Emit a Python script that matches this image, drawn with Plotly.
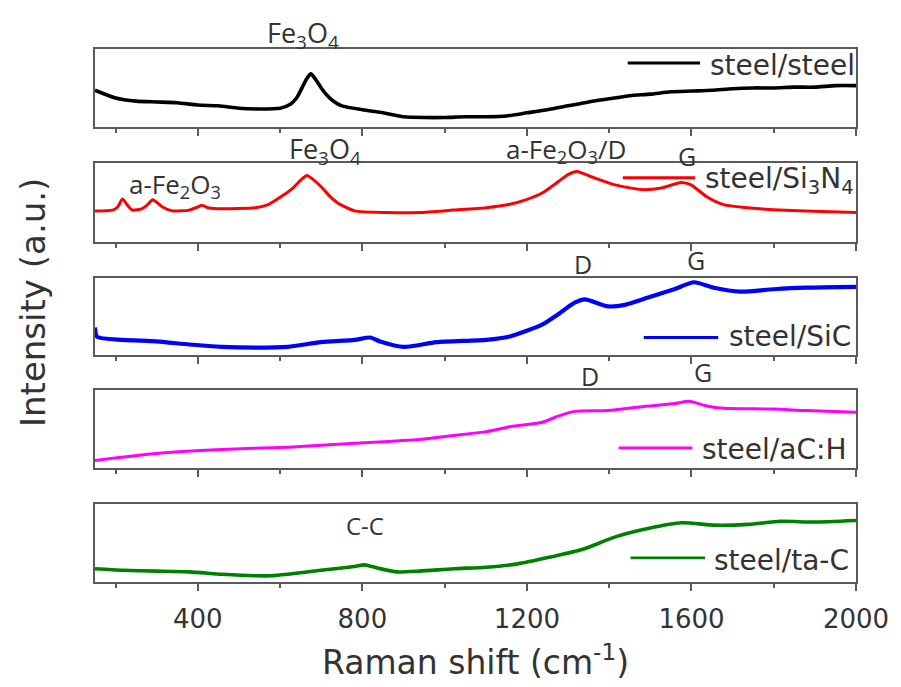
import plotly.graph_objects as go

# ---------------- data ----------------
shift_ss = [150, 200, 250, 300, 350, 400, 450, 500, 550, 600, 625, 640, 655, 665, 675, 685, 700, 715, 730,
            750, 800, 850, 900, 950, 1000, 1050, 1100, 1150, 1200, 1250, 1300, 1350, 1400, 1450, 1500,
            1550, 1600, 1650, 1700, 1750, 1800, 1850, 1900, 1950, 2000]
int_ss = [47, 37, 33, 32, 31, 28, 27, 24, 23, 24, 29, 37, 52, 62, 68, 62, 50, 40, 33,
          27, 22, 18, 13, 12, 12, 13, 13, 14, 18, 22, 27, 32, 36, 40, 42,
          45, 46, 47, 49, 50, 50, 51, 51, 53, 53]

shift_sn = [150, 193, 205, 217, 229, 241, 265, 280, 290, 300, 314, 338, 379, 395, 410, 425, 439, 499,
            540, 571, 602, 631, 650, 665, 680, 699, 720, 740, 781, 860, 939, 1021, 1101, 1156, 1197,
            1238, 1276, 1300, 1322, 1358, 1414, 1479, 1527, 1575, 1599, 1637, 1678, 1758, 1878, 2000]
int_sn = [39, 40, 44, 54, 46, 40, 42, 48, 53, 50, 44, 39, 40, 43, 46, 43, 42, 42,
          43, 47, 57, 68, 78, 84, 79, 70, 58, 49, 39, 37, 37, 40, 43, 47, 53,
          62, 76, 85, 89, 82, 72, 66, 68, 75, 72, 57, 47, 42, 39, 37]

shift_sic = [150, 155, 217, 299, 379, 458, 540, 619, 699, 781, 819, 843, 901, 980, 1101, 1156, 1238, 1276,
             1317, 1341, 1397, 1438, 1493, 1558, 1606, 1654, 1719, 1799, 1878, 2000]
int_sic = [36, 24, 20, 18, 14, 11, 10, 11, 17, 20, 23, 18, 11, 17, 20, 24, 40, 53,
           68, 72, 63, 65, 74, 85, 94, 87, 82, 85, 87, 88]

shift_ach = [150, 299, 458, 619, 781, 939, 1021, 1101, 1156, 1238, 1276, 1317, 1397, 1479, 1558, 1594,
             1637, 1678, 1799, 1878, 2000]
int_ach = [10, 19, 24, 27, 32, 37, 42, 47, 53, 59, 67, 73, 74, 79, 83, 86,
           80, 77, 76, 74, 72]

shift_tac = [150, 217, 299, 379, 458, 540, 579, 619, 699, 781, 805, 836, 884, 939, 1021, 1101, 1174,
             1257, 1336, 1415, 1497, 1576, 1656, 1738, 1817, 1897, 2000]
int_tac = [17, 15, 14, 13, 10, 8, 8, 10, 15, 20, 22, 18, 13, 14, 17, 19, 23,
           32, 42, 58, 69, 76, 73, 74, 78, 77, 79]

names = ["steel/steel", "steel/Si<sub>3</sub>N<sub>4</sub>", "steel/SiC", "steel/aC:H", "steel/ta-C"]
colors = ["#000000", "#ff0000", "#0000ff", "#ff00ff", "#008000"]
series = [(shift_ss, int_ss), (shift_sn, int_sn), (shift_sic, int_sic), (shift_ach, int_ach), (shift_tac, int_tac)]
line_widths = [3.6, 3, 4.2, 3, 3.6]

# ---------------- layout helpers ----------------
W, H = 901, 687
ML, MR, MT, MB = 95, 39, 49, 104
plot_h = H - MT - MB
panels_px = [(49, 127), (163, 242), (278, 356), (391, 469), (505, 583)]
domains = [[(583 - b) / plot_h, (583 - t) / plot_h] for t, b in panels_px]

FRAME = "#5a5a5a"
TXT = "#333333"
TICKFONT = dict(family="DejaVu Sans", size=26, color=TXT)
LEGFONT = dict(family="DejaVu Sans", size=28, color=TXT)

fig = go.Figure()
for i, ((xs, ys), nm, c, lw) in enumerate(zip(series, names, colors, line_widths)):
    k = "" if i == 0 else str(i + 1)
    fig.add_trace(go.Scatter(x=xs, y=ys, mode="lines", name=nm,
                             line=dict(color=c, width=lw, shape="spline", smoothing=0.6),
                             xaxis="x" + k, yaxis="y" + k, showlegend=False))

layout = dict(width=W, height=H, margin=dict(l=ML, r=MR, t=MT, b=MB),
              paper_bgcolor="white", plot_bgcolor="white", showlegend=False)
for i in range(5):
    k = "" if i == 0 else str(i + 1)
    last = (i == 4)
    layout["xaxis" + k] = dict(
        domain=[0, 1], anchor="y" + k, range=[150, 2000],
        tick0=400, dtick=400, ticks="outside", ticklen=7, tickwidth=1.5, tickcolor=FRAME,
        minor=dict(dtick=200, tick0=0, ticks="outside", ticklen=4, tickwidth=1.5, tickcolor=FRAME),
        showticklabels=last, tickfont=TICKFONT, ticklabelstandoff=6,
        showline=True, linecolor=FRAME, linewidth=1.8, mirror=True, showgrid=False, zeroline=False,
        fixedrange=True,
    )
    layout["yaxis" + k] = dict(
        domain=domains[i], anchor="x" + k, range=[0, 100],
        showticklabels=False, ticks="", showline=True, linecolor=FRAME, linewidth=1.8, mirror=True,
        showgrid=False, zeroline=False, fixedrange=True,
    )
layout["xaxis5"]["title"] = dict(text="Raman shift (cm<sup>-1</sup>)",
                                 font=dict(family="DejaVu Sans", size=33, color=TXT), standoff=18)
fig.update_layout(**layout)

# y-axis title
fig.add_annotation(text="Intensity (a.u.)", textangle=-90, xref="paper", yref="paper",
                   x=(32 - ML) / (W - ML - MR), y=(583 - 303) / plot_h, showarrow=False,
                   xanchor="center", yanchor="middle",
                   font=dict(family="DejaVu Sans", size=34, color=TXT))

# peak labels: (text, panel index, x in cm^-1, y in panel-domain units, font size)
peak_labels = [
    ("Fe<sub>3</sub>O<sub>4</sub>", 0, 656, 1.18, 27),
    ("Fe<sub>3</sub>O<sub>4</sub>", 1, 710, 1.16, 27),
    ("a-Fe<sub>2</sub>O<sub>3</sub>", 1, 345, 0.72, 26),
    ("a-Fe<sub>2</sub>O<sub>3</sub>/D", 1, 1296, 1.16, 26),
    ("G", 1, 1590, 1.08, 25),
    ("D", 2, 1337, 1.18, 25),
    ("G", 2, 1612, 1.23, 25),
    ("D", 3, 1354, 1.18, 25),
    ("G", 3, 1629, 1.24, 25),
    ("C-C", 4, 806, 0.72, 24),
]
for txt, p, xv, yv, fs in peak_labels:
    k = "" if p == 0 else str(p + 1)
    fig.add_annotation(text=txt, xref="x" + k, yref="y" + k + " domain", x=xv, y=yv,
                       xanchor="center", yanchor="middle",
                       showarrow=False, font=dict(family="Open Sans", size=fs, color=TXT))

# in-panel legends: line sample + label
legend_pos = [  # (x0, x1, y_line, x_text, y_text)
    (1445, 1621, 0.82, 1641, 0.79),
    (1433, 1609, 0.81, 1629, 0.78),
    (1484, 1665, 0.23, 1686, 0.24),
    (1423, 1602, 0.26, 1621, 0.24),
    (1452, 1633, 0.31, 1650, 0.28),
]
for i, (x0, x1, yl, xt, yt) in enumerate(legend_pos):
    k = "" if i == 0 else str(i + 1)
    fig.add_shape(type="line", xref="x" + k, yref="y" + k + " domain", x0=x0, x1=x1, y0=yl, y1=yl,
                  line=dict(color=colors[i], width=2.8))
    fig.add_annotation(text=names[i], xref="x" + k, yref="y" + k + " domain", x=xt, y=yt,
                       xanchor="left", yanchor="middle", showarrow=False, font=LEGFONT)

fig.write_html("out.html", config={"displayModeBar": False},
               post_script="document.body.style.margin='0px';document.body.style.overflow='hidden';")
